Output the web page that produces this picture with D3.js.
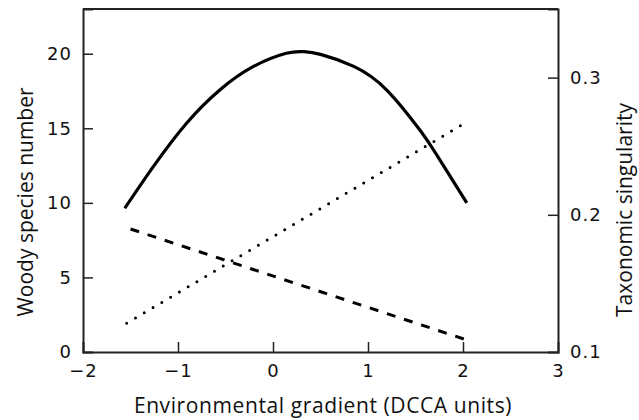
<!DOCTYPE html>
<html lang="en">
<head>
    <meta charset="utf-8">
    <title>Woody species and taxonomic singularity</title>
    <style type="text/css">
        body { margin: 0; background: #fff; }
        .tick text { font-family: "DejaVu Sans", sans-serif; font-size: 18px; letter-spacing: 1px; fill: #111; }
        .title { font-family: "Open Sans", sans-serif; font-size: 21px; fill: #111; }
    </style>
</head>
<body>
   <svg class="chart" width="639" height="420"></svg>

   <script src="https://d3js.org/d3.v7.min.js"></script>
   <script>
        // data
        var xTicks = [-2, -1, 0, 1, 2, 3];
        var leftTicks = [0, 5, 10, 15, 20];
        var rightTicks = [0.1, 0.2, 0.3];

        // solid curve: woody species number
        var curveX = [-1.56, -1.26, -0.91, -0.56, -0.21, 0.14, 0.32, 0.50, 0.85, 1.20, 1.55, 1.72, 2.04];
        var curveY = [9.64, 12.43, 15.34, 17.57, 19.13, 20.03, 20.14, 19.96, 19.15, 17.55, 14.85, 13.25, 10.0];

        // dashed line (left axis)
        var dashX = [-1.5, 2.02];
        var dashY = [8.25, 0.85];

        // dotted line: taxonomic singularity (right axis)
        var dotX = [-1.54, 2.0];
        var dotY = [0.121, 0.266];

        var svg = d3.select('.chart'),
            margin = {top: 9, right: 81, bottom: 68, left: 83},
            w = 639 - margin.left - margin.right,
            h = 420 - margin.top - margin.bottom;

        var g = svg.append('g')
            .attr('transform', 'translate(' + margin.left + ',' + margin.top + ')');

        var x = d3.scaleLinear().domain([-2, 3]).range([0, w]);
        var yL = d3.scaleLinear().domain([0, 23]).range([h, 0]);
        var yR = d3.scaleLinear().domain([0.1, 0.35]).range([h, 0]);

        // axes, ticks pointing inward
        var ax = g.append('g')
            .attr('transform', 'translate(0,' + h + ')')
            .call(d3.axisBottom(x).tickValues(xTicks).tickSize(-10).tickPadding(12).tickFormat(d3.format('d')));

        var al = g.append('g')
            .call(d3.axisLeft(yL).tickValues(leftTicks).tickSize(-10).tickPadding(11));

        var ar = g.append('g')
            .attr('transform', 'translate(' + w + ',0)')
            .call(d3.axisRight(yR).tickValues(rightTicks).tickSize(-10).tickPadding(12).tickFormat(d3.format('.1f')));

        [ax, al, ar].forEach(function(a) {
            a.select('.domain').attr('stroke', '#222').attr('stroke-width', 2);
            a.selectAll('.tick line').attr('stroke', '#222').attr('stroke-width', 1.5);
        });
        ax.selectAll('.tick').filter(function(d) { return d === -2 || d === 3; }).select('line').remove();
        al.selectAll('.tick').filter(function(d) { return d === 0; }).select('line').remove();
        ar.selectAll('.tick').filter(function(d) { return d === 0.1; }).select('line').remove();

        // top border
        g.append('line')
            .attr('x1', 0).attr('x2', w)
            .attr('y1', 0).attr('y2', 0)
            .attr('stroke', '#222').attr('stroke-width', 2);

        // curves
        var lineL = d3.line()
            .x(function(d) { return x(d[0]); })
            .y(function(d) { return yL(d[1]); });

        g.append('path')
            .datum(d3.zip(curveX, curveY))
            .attr('fill', 'none')
            .attr('stroke', '#000')
            .attr('stroke-width', 3.2)
            .attr('d', lineL.curve(d3.curveNatural));

        g.append('path')
            .datum(d3.zip(dashX, dashY))
            .attr('fill', 'none')
            .attr('stroke', '#000')
            .attr('stroke-width', 3)
            .attr('stroke-dasharray', '9,9')
            .attr('d', d3.line().x(function(d) { return x(d[0]); }).y(function(d) { return yL(d[1]); }));

        g.append('path')
            .datum(d3.zip(dotX, dotY))
            .attr('fill', 'none')
            .attr('stroke', '#000')
            .attr('stroke-width', 3)
            .attr('stroke-linecap', 'round')
            .attr('stroke-dasharray', '0,10.2')
            .attr('d', d3.line().x(function(d) { return x(d[0]); }).y(function(d) { return yR(d[1]); }));

        // titles
        svg.append('text')
            .attr('class', 'title')
            .attr('x', 323).attr('y', 413)
            .attr('text-anchor', 'middle')
            .style('letter-spacing', '0.6px')
            .text('Environmental gradient (DCCA units)');

        svg.append('text')
            .attr('class', 'title')
            .attr('transform', 'translate(33,202) rotate(-90)')
            .attr('text-anchor', 'middle')
            .text('Woody species number');

        svg.append('text')
            .attr('class', 'title')
            .attr('transform', 'translate(632,210) rotate(-90)')
            .attr('text-anchor', 'middle')
            .text('Taxonomic singularity');
   </script>
</body>
</html>
